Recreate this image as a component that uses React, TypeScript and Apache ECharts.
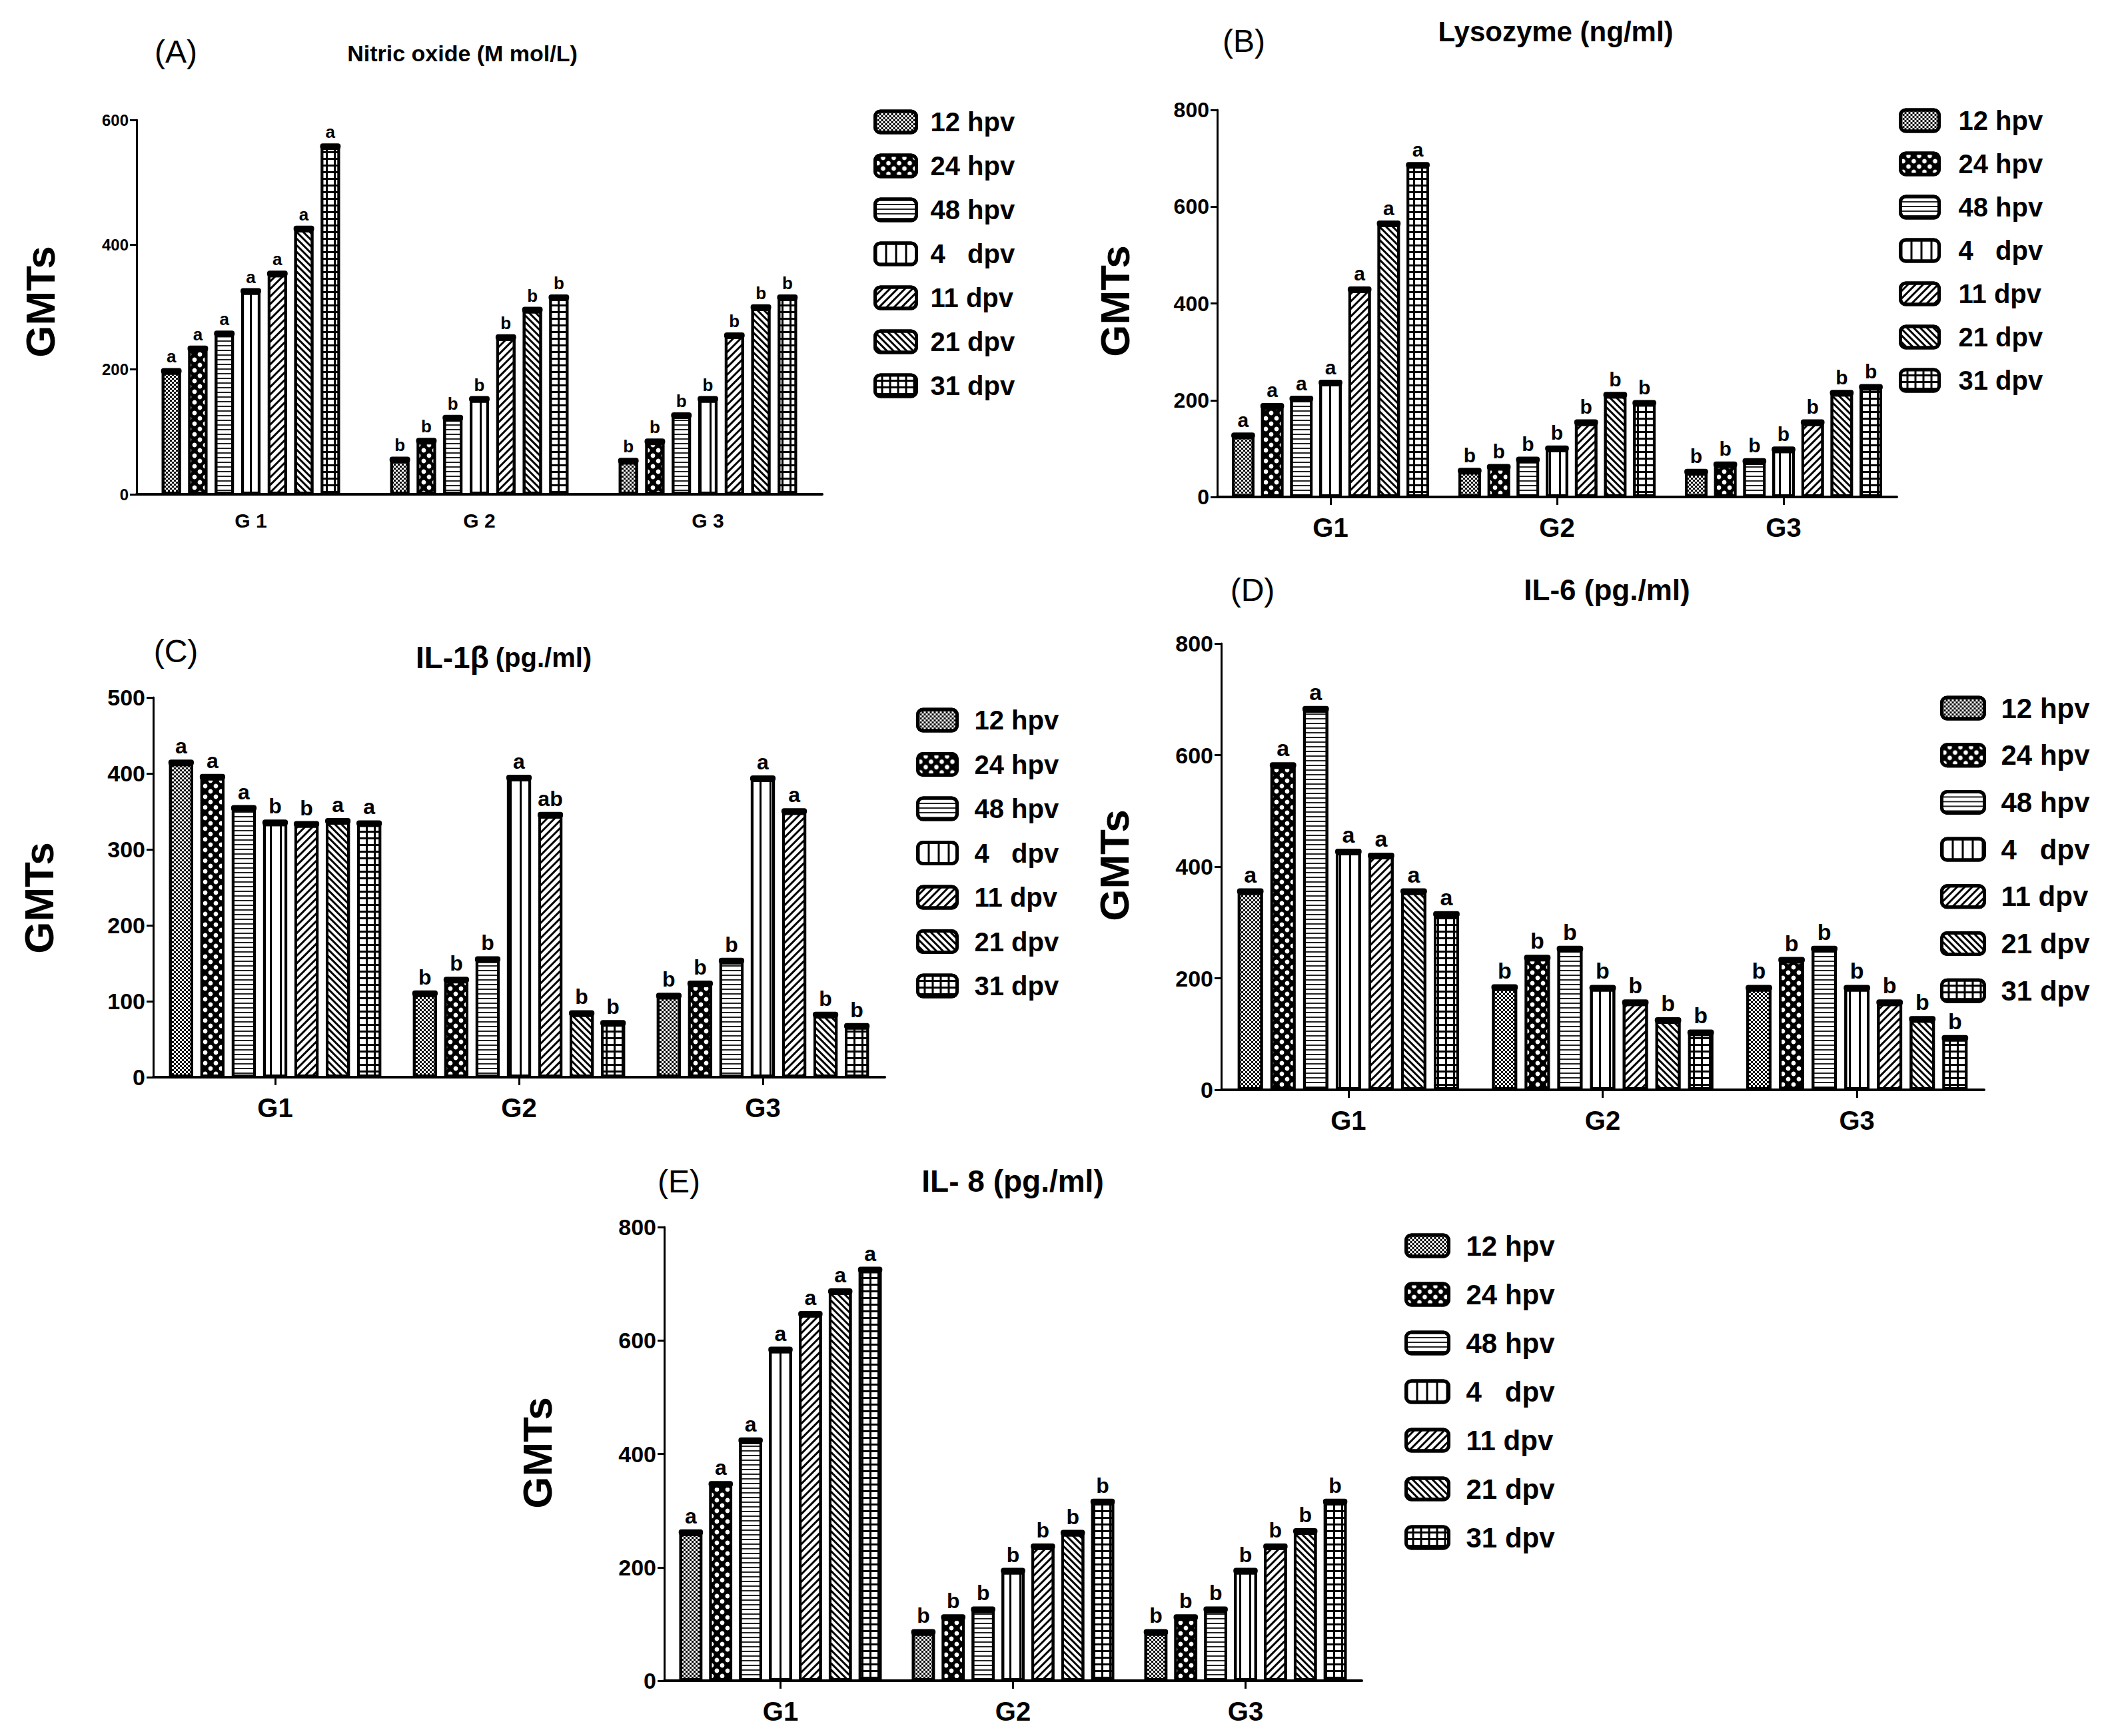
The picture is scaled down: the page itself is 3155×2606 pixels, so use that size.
import React, { useEffect, useRef } from "react";
import * as echarts from "echarts";

// ---------- DATA ----------
const groups = ["G1", "G2", "G3"];
const groupsA = ["G 1", "G 2", "G 3"];
const timePoints = ["12 hpv", "24 hpv", "48 hpv", "4   dpv", "11 dpv", "21 dpv", "31 dpv"];

// rows = time points (12 hpv ... 31 dpv), columns = G1, G2, G3
const nitricOxide = [
  [196, 54, 52],
  [232, 84, 83],
  [256, 121, 125],
  [324, 151, 151],
  [352, 250, 253],
  [424, 294, 298],
  [556, 314, 314],
];
const lysozyme = [
  [125, 52, 50],
  [186, 60, 65],
  [201, 75, 72],
  [234, 98, 96],
  [427, 152, 152],
  [563, 209, 213],
  [684, 192, 225],
];
const il1b = [
  [413, 109, 106],
  [394, 127, 122],
  [353, 154, 152],
  [334, 393, 392],
  [332, 344, 349],
  [336, 83, 81],
  [333, 70, 66],
];
const il6 = [
  [354, 182, 181],
  [580, 235, 231],
  [681, 251, 251],
  [425, 181, 181],
  [418, 155, 155],
  [354, 123, 125],
  [313, 101, 91],
];
const il8 = [
  [260, 84, 84],
  [345, 110, 110],
  [422, 124, 124],
  [582, 192, 192],
  [645, 235, 235],
  [685, 259, 262],
  [723, 314, 314],
];

const lettersStandard = [
  ["a", "b", "b"],
  ["a", "b", "b"],
  ["a", "b", "b"],
  ["a", "b", "b"],
  ["a", "b", "b"],
  ["a", "b", "b"],
  ["a", "b", "b"],
];
const lettersIL1b = [
  ["a", "b", "b"],
  ["a", "b", "b"],
  ["a", "b", "b"],
  ["b", "a", "a"],
  ["b", "ab", "a"],
  ["a", "b", "b"],
  ["a", "b", "b"],
];

const titles = ["Nitric oxide (M mol/L)", "Lysozyme (ng/ml)", "IL-1β", "IL-6 (pg./ml)", "IL- 8 (pg./ml)"];
const titleC2 = "(pg./ml)";
const panelLetters = ["(A)", "(B)", "(C)", "(D)", "(E)"];
const yMax = [600, 800, 500, 800, 800];
const yInterval = [200, 200, 100, 200, 200];
const yName = "GMTs";

// ---------- LAYOUT / STYLE ----------
const FONT = "'Liberation Sans', Arial, Helvetica, sans-serif";

const panels = [
  {
    values: nitricOxide, letters: lettersStandard, cats: groupsA,
    left: 205, right: 1234, top: 180, bottom: 742,
    catGap: 0.22, barGap: 0.38, tickFont: 24, catFont: 30, catMargin: 24, labelFont: 26, xTicks: false,
    lg: { x: 1311, c: 179, w: 62, h: 32, step: 58, font: 40, pad: 16 },
    letter: { x: 264, y: 77 }, title: { x: 694, y: 80, font: 34 }, gm: { x: 60, y: 453 },
  },
  {
    values: lysozyme, letters: lettersStandard, cats: groups,
    left: 1827, right: 2847, top: 165, bottom: 746,
    catGap: 0.13, barGap: 0.3, tickFont: 32, catFont: 40, catMargin: 26, labelFont: 30, xTicks: true,
    lg: { x: 2850, c: 177, w: 58, h: 32, step: 57, font: 40, pad: 24 },
    letter: { x: 1867, y: 61 }, title: { x: 2335, y: 47, font: 42 }, gm: { x: 1673, y: 452 },
  },
  {
    values: il1b, letters: lettersIL1b, cats: groups,
    left: 230, right: 1328, top: 1047, bottom: 1617,
    catGap: 0.13, barGap: 0.3, tickFont: 34, catFont: 40, catMargin: 26, labelFont: 32, xTicks: true,
    lg: { x: 1375, c: 1077, w: 59, h: 32, step: 58.5, font: 40, pad: 21 },
    letter: { x: 264, y: 977 }, title: { x: 756, y: 987, font: 44 }, gm: { x: 58, y: 1348 },
  },
  {
    values: il6, letters: lettersStandard, cats: groups,
    left: 1833, right: 2978, top: 966, bottom: 1636,
    catGap: 0.13, barGap: 0.3, tickFont: 34, catFont: 40, catMargin: 26, labelFont: 34, xTicks: true,
    lg: { x: 2912, c: 1058, w: 64, h: 32, step: 60.7, font: 42, pad: 20 },
    letter: { x: 1880, y: 885 }, title: { x: 2412, y: 885, font: 44 }, gm: { x: 1672, y: 1299 },
  },
  {
    values: il8, letters: lettersStandard, cats: groups,
    left: 997, right: 2044, top: 1842, bottom: 2523,
    catGap: 0.13, barGap: 0.3, tickFont: 34, catFont: 40, catMargin: 26, labelFont: 32, xTicks: true,
    lg: { x: 2108, c: 1865, w: 64, h: 32, step: 63, font: 42, pad: 21 },
    letter: { x: 1019, y: 1773 }, title: { x: 1520, y: 1773, font: 46 }, gm: { x: 806, y: 2181 },
  },
];

const base = { symbol: "rect", symbolSize: 1, symbolKeepAspect: false };
// fill colour of each bar family, and the pattern drawn over it
const fills = ["#fff", "#000", "#fff", "#fff", "#fff", "#fff", "#000"];
const decals: any[] = [
  { ...base, color: "#000", dashArrayX: [[3, 3], [0, 3, 3, 0]], dashArrayY: [3, 0] },
  { symbol: "circle", symbolSize: 0.85, symbolKeepAspect: true, color: "#fff", dashArrayX: [[8, 8], [0, 8, 8, 0]], dashArrayY: [8, 0] },
  { ...base, color: "#222", dashArrayX: [20, 0], dashArrayY: [2, 5] },
  { ...base, color: "#000", dashArrayX: [3, 12], dashArrayY: [20, 0] },
  { ...base, color: "#000", dashArrayX: [20, 0], dashArrayY: [3, 5], rotation: -Math.PI / 4 },
  { ...base, color: "#000", dashArrayX: [20, 0], dashArrayY: [3, 4], rotation: Math.PI / 4 },
  { ...base, color: "#fff", dashArrayX: [9, 3], dashArrayY: [7, 3] },
];

function buildOption() {
  const grid: any[] = [];
  const xAxis: any[] = [];
  const yAxis: any[] = [];
  const series: any[] = [];
  const legend: any[] = [];
  const graphic: any[] = [];

  panels.forEach((p, pi) => {
    grid.push({ left: p.left, top: p.top, width: p.right - p.left, height: p.bottom - p.top });
    xAxis.push({
      type: "category", gridIndex: pi, data: p.cats,
      axisLine: { lineStyle: { color: "#000", width: 4 } },
      axisTick: { show: p.xTicks, alignWithLabel: true, length: 12, lineStyle: { color: "#000", width: 3 } },
      axisLabel: { color: "#000", fontSize: p.catFont, fontWeight: "bold", fontFamily: FONT, margin: p.catMargin },
      splitLine: { show: false },
    });
    yAxis.push({
      type: "value", gridIndex: pi, min: 0, max: yMax[pi], interval: yInterval[pi],
      axisLine: { show: true, lineStyle: { color: "#000", width: 3 } },
      axisTick: { show: true, length: 10, lineStyle: { color: "#000", width: 3 } },
      axisLabel: { color: "#000", fontSize: p.tickFont, fontWeight: "bold", fontFamily: FONT, margin: 12 },
      splitLine: { show: false },
    });
    timePoints.forEach((tp, si) => {
      series.push({
        type: "bar", name: tp, xAxisIndex: pi, yAxisIndex: pi,
        data: p.values[si],
        barCategoryGap: `${p.catGap * 100}%`, barGap: `${p.barGap * 100}%`,
        itemStyle: { color: fills[si], borderColor: "#000", borderWidth: 4, decal: decals[si] },
        label: {
          show: true, position: "top", distance: 10,
          formatter: (prm: any) => p.letters[si][prm.dataIndex],
          color: "#000", fontSize: p.labelFont, fontWeight: "bold", fontFamily: FONT,
        },
        emphasis: { disabled: true },
      });
    });
    const capData: number[][] = [];
    p.values.forEach((row, si) => row.forEach((v, ci) => capData.push([ci, si, v])));
    series.push({
      type: "custom", xAxisIndex: pi, yAxisIndex: pi, data: capData, encode: { x: 0, y: 2 },
      z: 5, silent: true,
      renderItem: (params: any, api: any) => {
        const ci = api.value(0), si = api.value(1), v = api.value(2);
        const pt = api.coord([ci, v]);
        const band = api.size([1, 0])[0];
        const groupW = band * (1 - p.catGap);
        const n = timePoints.length;
        const w = groupW / (n + (n - 1) * p.barGap);
        const cx = pt[0] - groupW / 2 + w / 2 + si * w * (1 + p.barGap);
        return {
          type: "rect",
          shape: { x: cx - w / 2 - 1, y: pt[1] - 6, width: w + 2, height: 9, r: 4 },
          style: { fill: "#000" },
        };
      },
    });
    legend.push({
      orient: "vertical", left: p.lg.x, top: p.lg.c - p.lg.h / 2, padding: 0,
      itemWidth: p.lg.w, itemHeight: p.lg.h, itemGap: p.lg.step - p.lg.h,
      icon: "roundRect", selectedMode: false, data: timePoints,
      itemStyle: { borderColor: "#000", borderWidth: 5 },
      textStyle: {
        color: "#000", fontSize: p.lg.font, fontWeight: "bold", fontFamily: FONT,
        lineHeight: p.lg.h, padding: [0, 0, 0, p.lg.pad],
      },
    });
    graphic.push({
      type: "text", x: p.letter.x, y: p.letter.y,
      style: { text: panelLetters[pi], fill: "#000", font: `48px ${FONT}`, textAlign: "center", textVerticalAlign: "middle" },
    });
    if (pi === 2) {
      graphic.push({
        type: "text", x: p.title.x, y: p.title.y,
        style: {
          text: `{a|${titles[pi]}}   {b|${titleC2}}`, textAlign: "center", textVerticalAlign: "middle",
          rich: {
            a: { fontSize: 46, fontWeight: "bold", fontFamily: FONT, fill: "#000" },
            b: { fontSize: 40, fontWeight: "bold", fontFamily: FONT, fill: "#000" },
          },
        },
      });
    } else {
      graphic.push({
        type: "text", x: p.title.x, y: p.title.y,
        style: { text: titles[pi], fill: "#000", font: `bold ${p.title.font}px ${FONT}`, textAlign: "center", textVerticalAlign: "middle" },
      });
    }
    graphic.push({
      type: "text", x: p.gm.x, y: p.gm.y, rotation: Math.PI / 2,
      style: { text: yName, fill: "#000", font: `bold 62px ${FONT}`, textAlign: "center", textVerticalAlign: "middle" },
    });
  });

  return { animation: false, backgroundColor: "#fff", grid, xAxis, yAxis, series, legend, graphic };
}

export default function App() {
  const ref = useRef<HTMLDivElement>(null);
  useEffect(() => {
    document.body.style.margin = "0";
    const chart = echarts.init(ref.current!, null, { renderer: "svg" });
    chart.setOption(buildOption() as any);
    return () => chart.dispose();
  }, []);
  return <div ref={ref} style={{ width: 3155, height: 2606 }} />;
}
